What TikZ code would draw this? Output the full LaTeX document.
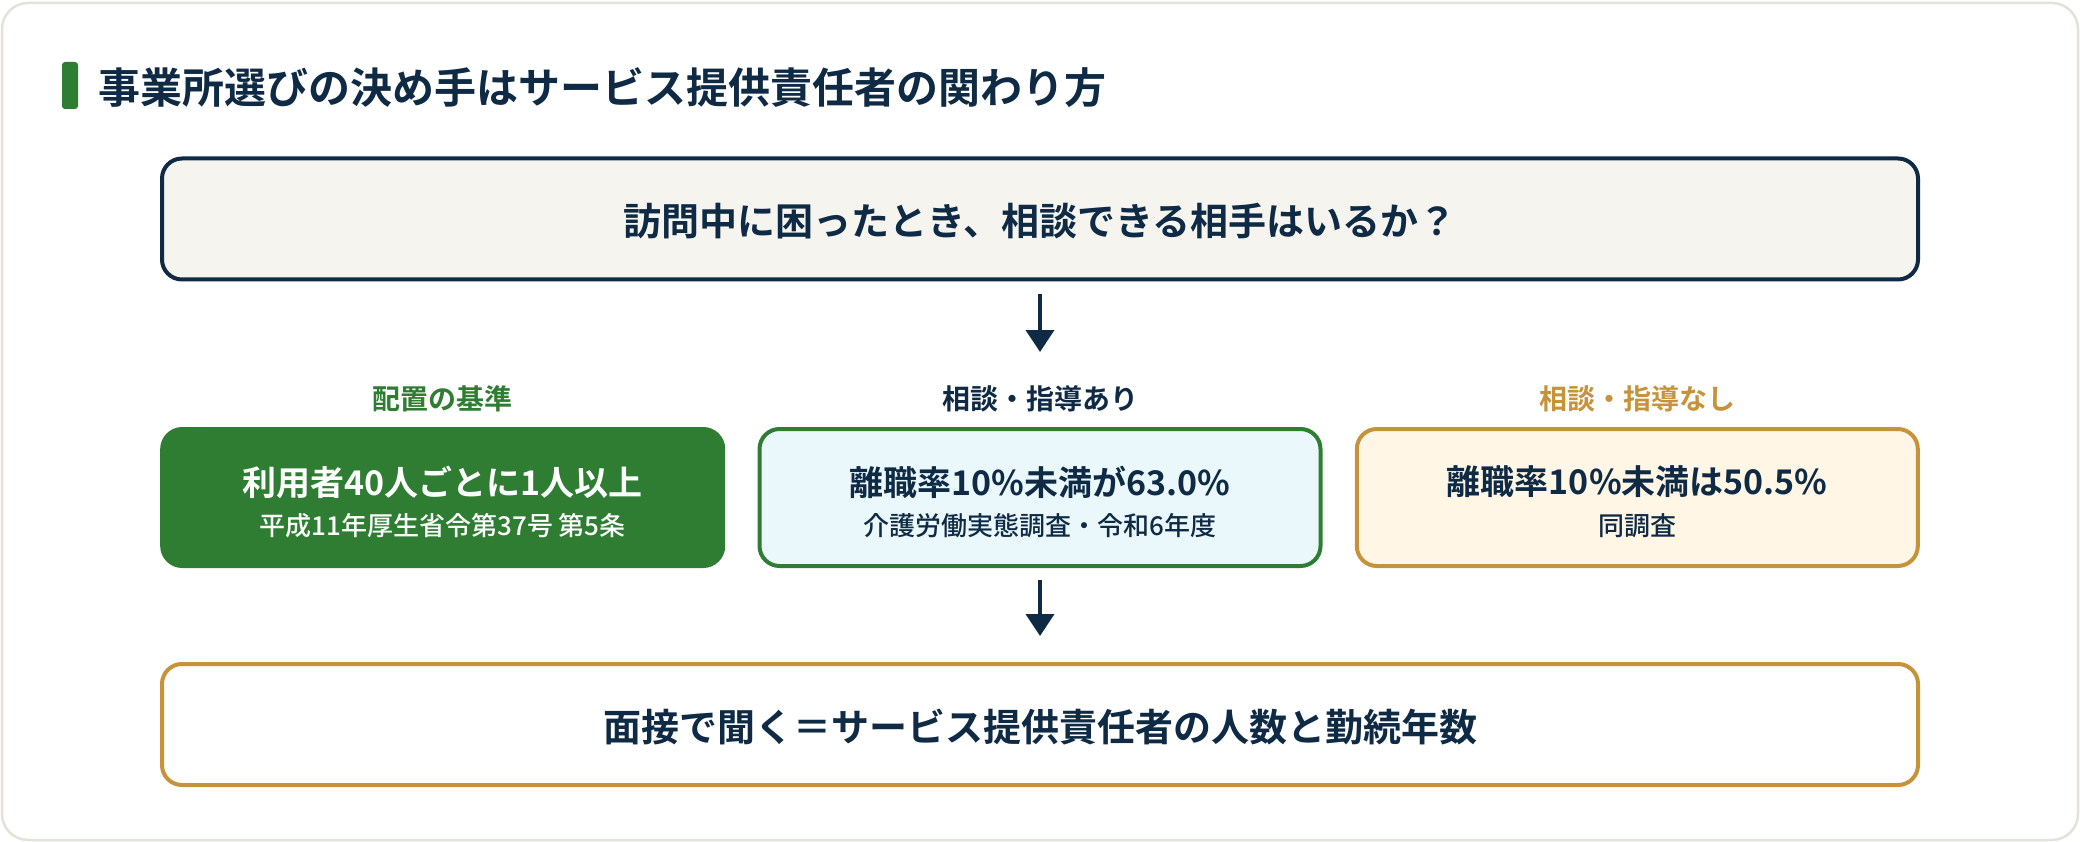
\documentclass[tikz,border=0pt]{standalone}
\usepackage{fontspec}
\setmainfont{Noto Sans CJK JP}[BoldFont={Noto Sans CJK JP Bold}]
\newfontfamily\medfont{Noto Sans CJK JP Medium}
\usetikzlibrary{arrows.meta}
\definecolor{navy}{HTML}{0F2A44}
\definecolor{mygreen}{HTML}{2E7D32}
\definecolor{gold}{HTML}{C6923A}
\definecolor{lblue}{HTML}{EAF8FC}
\definecolor{cream}{HTML}{FFF6E6}
\definecolor{qfill}{HTML}{F5F4EF}
\definecolor{cardline}{HTML}{E4E2D8}
\begin{document}
\begin{tikzpicture}[x=1pt,y=1pt,
  box/.style={rounded corners=20pt, line width=4pt, inner sep=0pt, align=center},
  widebox/.style={box, minimum width=1756pt, minimum height=121pt},
  midbox/.style={box, minimum width=561pt, minimum height=137pt},
  bigtext/.style={inner sep=0pt, font=\fontsize{38}{44}\selectfont\bfseries, text=navy},
  maintext/.style={inner sep=0pt, font=\fontsize{34}{40}\selectfont\bfseries},
  subtext/.style={inner sep=0pt, font=\fontsize{26}{30}\selectfont\medfont},
  lbltext/.style={inner sep=0pt, font=\fontsize{28}{32}\selectfont\bfseries},
  arr/.style={line width=4pt, draw=navy, -{Triangle[width=28pt,length=22pt]}}
]
\useasboundingbox (0,0) rectangle (2080,-842);
\draw[cardline, line width=2.5pt, fill=white, rounded corners=26pt] (2,-3) rectangle (2078,-840);
% title
\fill[mygreen, rounded corners=3pt] (62,-62) rectangle (78,-109);
\node[anchor=west, inner sep=0pt, font=\fontsize{42}{48}\selectfont\bfseries, text=navy] (title) at (98,-88)
  {事業所選びの決め手はサービス提供責任者の関わり方};
% question box
\node[widebox, draw=navy, fill=qfill] (q) at (1040,-219) {};
\node[bigtext] (qt) at (1040,-221) {訪問中に困ったとき、相談できる相手はいるか？};
% labels
\node[lbltext, text=mygreen] (l1) at (442.7,-399) {配置の基準};
\node[lbltext, text=navy] (l2) at (1040,-399) {相談・指導あり};
\node[lbltext, text=gold] (l3) at (1637.3,-399) {相談・指導なし};
% middle boxes
\node[midbox, draw=mygreen, fill=mygreen] (b1) at (442.7,-497.5) {};
\node[midbox, draw=mygreen, fill=lblue] (b2) at (1040,-497.5) {};
\node[midbox, draw=gold, fill=cream] (b3) at (1637.3,-497.5) {};
\node[maintext, text=white] (m1) at (442.7,-482) {利用者40人ごとに1人以上};
\node[subtext, text=white] (s1) at (442.7,-526) {平成11年厚生省令第37号 第5条};
\node[maintext, text=navy] (m2) at (1040,-482) {離職率10\%未満が63.0\%};
\node[subtext, text=navy] (s2) at (1040,-526) {介護労働実態調査・令和6年度};
\node[maintext, text=navy] (m3) at (1637.3,-482) {離職率10\%未満は50.5\%};
\node[subtext, text=navy] (s3) at (1637.3,-526) {同調査};
% bottom box
\node[widebox, draw=gold, fill=white] (bt) at (1040,-724.5) {};
\node[bigtext] (btt) at (1040,-727) {面接で聞く＝サービス提供責任者の人数と勤続年数};
% arrows
\draw[arr, shorten <=13pt, shorten >=75pt] (q.south) -- (b2.north);
\draw[arr, shorten <=12pt, shorten >=26pt] (b2.south) -- (bt.north);
\end{tikzpicture}
\end{document}
